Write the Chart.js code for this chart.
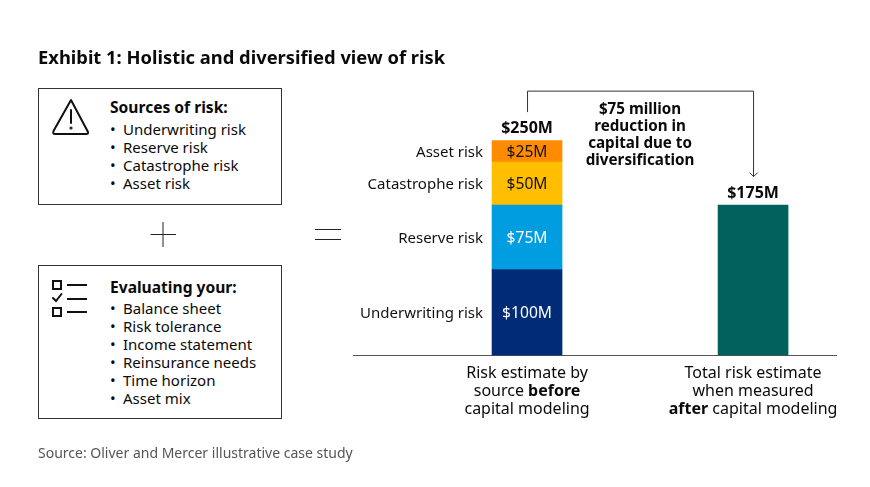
<!DOCTYPE html>
<html>
<head>
<meta charset="utf-8">
<script src="https://cdn.jsdelivr.net/npm/chart.js@4"></script>
<style>
  html, body { margin: 0; background: #fff; }
  body { width: 870px; height: 487px; position: relative; overflow: hidden; font-family: "Noto Sans", sans-serif; color: #0a0a0a; }
  #chart { position: absolute; left: 0; top: 0; }
  .abs { position: absolute; }
  #title { left: 38px; top: 45px; font-size: 18.35px; font-weight: 700; line-height: 24px; white-space: nowrap; }
  #source { left: 38px; top: 443px; font-size: 14px; line-height: 20px; color: #555; white-space: nowrap; }
  .box { left: 38px; width: 242px; border: 1px solid #333; background: #fff; }
  .box h4 { position: absolute; left: 71px; margin: 0; font-size: 15.6px; line-height: 20px; font-weight: 700; white-space: nowrap; }
  .box ul { position: absolute; left: 71px; margin: 0; padding: 0; list-style: none; font-size: 15px; line-height: 18px; white-space: nowrap; }
  .box li { height: 18px; }
  .box li::before { content: "•"; display: inline-block; width: 13px; font-size: 15px; line-height: 18px; vertical-align: top; }
  svg { position: absolute; overflow: visible; }
</style>
</head>
<body>
<canvas id="chart" width="870" height="487"></canvas>

<div id="title" class="abs">Exhibit 1: Holistic and diversified view of risk</div>

<div class="abs box" style="top:88px;height:115px">
  <svg style="left:13px;top:10px" width="38" height="36" fill="none" stroke="#111" stroke-width="2" stroke-linejoin="round" stroke-linecap="round">
    <path d="M19 1 L36 33 Q36.500 35 34 35 L3 35 Q0.500 35 1.500 32 Z"/>
    <path d="M19 11 L19 24"/>
    <circle cx="19" cy="29" r="0.6"/>
  </svg>
  <h4 style="top:8px">Sources of risk:</h4>
  <ul style="top:31px">
    <li>Underwriting risk</li>
    <li>Reserve risk</li>
    <li>Catastrophe risk</li>
    <li>Asset risk</li>
  </ul>
</div>

<svg style="left:150px;top:222px" width="26" height="26" stroke="#222" stroke-width="1" fill="none">
  <path d="M13 0 V25 M0.500 12.500 H26"/>
</svg>
<svg style="left:315px;top:227px" width="26" height="14" stroke="#222" stroke-width="1" fill="none">
  <path d="M0 2.500 H26 M0 12.500 H26"/>
</svg>

<div class="abs box" style="top:265px;height:152px">
  <svg style="left:13px;top:14px" width="36" height="40" fill="none" stroke="#111" stroke-width="2">
    <rect x="1" y="1" width="8" height="8"/>
    <path d="M15 5 H35"/>
    <path d="M1 18 L4 21 L9.500 14" stroke-linecap="round"/>
    <path d="M15 19 H35"/>
    <rect x="1" y="28" width="8" height="8"/>
    <path d="M15 32 H35"/>
  </svg>
  <h4 style="top:11px">Evaluating your:</h4>
  <ul style="top:33px">
    <li>Balance sheet</li>
    <li>Risk tolerance</li>
    <li>Income statement</li>
    <li>Reinsurance needs</li>
    <li>Time horizon</li>
    <li>Asset mix</li>
  </ul>
</div>

<div id="source" class="abs">Source: Oliver and Mercer illustrative case study</div>

<script>
const underwritingRisk = [100, null]
const reserveRisk = [75, null]
const catastropheRisk = [50, null]
const assetRisk = [25, null]
const totalAfter = [null, 175]

const seriesNames = ['Underwriting risk', 'Reserve risk', 'Catastrophe risk', 'Asset risk', 'Total risk estimate']
const seriesColors = ['#002C77', '#009DE0', '#FFBE00', '#FF8C00', '#00615D']
const valueColors = ['#ffffff', '#ffffff', '#111111', '#111111', null]
const totals = [250, 175]
const reductionText = ['$75 million', 'reduction in', 'capital due to', 'diversification']
// each line is a list of [text, isBold] runs
const categoryLabels = [
   [[['Risk estimate by', false]], [['source ', false], ['before', true]], [['capital modeling', false]]],
   [[['Total risk estimate', false]], [['when measured', false]], [['after', true], [' capital modeling', false]]]
]

const FONT = '"Noto Sans", sans-serif'
const toPoints = arr => arr.map((v, i) => ({ x: i, y: v }))

const labelsPlugin = {
   id: 'labelsPlugin',
   afterDatasetsDraw(chart) {
      const c = chart.ctx
      const x = chart.scales.x
      const y = chart.scales.y
      c.save()
      c.textBaseline = 'middle'

      // value labels inside the segments, series names to the left
      chart.data.datasets.forEach((ds, i) => {
         const meta = chart.getDatasetMeta(i)
         ds.data.forEach((pt, j) => {
            if (pt.y === null || !valueColors[i]) return
            const bar = meta.data[j]
            const mid = (bar.y + bar.base) / 2
            c.textAlign = 'center'
            c.fillStyle = valueColors[i]
            c.font = `15.6px ${FONT}`
            c.fillText(`$${pt.y}M`, bar.x, mid + 1)
            c.textAlign = 'right'
            c.fillStyle = '#111111'
            c.font = `15px ${FONT}`
            c.fillText(ds.label, bar.x - 44, mid + 1)
         })
      })

      // totals over the bars
      c.textAlign = 'center'
      c.fillStyle = '#0a0a0a'
      c.font = `700 16px ${FONT}`
      totals.forEach((t, i) => {
         c.fillText(`$${t}M`, x.getPixelForValue(i), y.getPixelForValue(t) - 12)
      })

      // bracket from the first total to the second
      const x0 = x.getPixelForValue(0)
      const x1 = x.getPixelForValue(1)
      const bracketTop = y.getPixelForValue(308)
      const bracketStart = y.getPixelForValue(283)
      const arrowEnd = y.getPixelForValue(208)
      c.strokeStyle = '#333333'
      c.lineWidth = 1
      c.beginPath()
      c.moveTo(x0 + 0.5, bracketStart)
      c.lineTo(x0 + 0.5, bracketTop + 0.5)
      c.lineTo(x1 + 0.5, bracketTop + 0.5)
      c.lineTo(x1 + 0.5, arrowEnd)
      c.moveTo(x1 - 3.5, arrowEnd - 4)
      c.lineTo(x1 + 0.5, arrowEnd)
      c.lineTo(x1 + 4.5, arrowEnd - 4)
      c.stroke()

      // reduction note
      c.font = `700 15.2px ${FONT}`
      reductionText.forEach((line, i) => {
         c.fillText(line, x.getPixelForValue(0.5), bracketTop + 19 + i * 17)
      })

      // category labels, drawn run by run for the bold words
      c.textAlign = 'left'
      categoryLabels.forEach((lines, i) => {
         lines.forEach((runs, k) => {
            const fontOf = r => `${r[1] ? '700 ' : ''}16px ${FONT}`
            let width = 0
            runs.forEach(r => { c.font = fontOf(r); width += c.measureText(r[0]).width })
            let px = x.getPixelForValue(i) - width / 2
            const py = y.bottom + 18 + k * 18
            runs.forEach(r => {
               c.font = fontOf(r)
               c.fillText(r[0], px, py)
               px += c.measureText(r[0]).width
            })
         })
      })
      c.restore()
   }
}

new Chart(document.getElementById('chart'), {
   type: 'bar',
   data: {
      datasets: [underwritingRisk, reserveRisk, catastropheRisk, assetRisk, totalAfter].map((arr, i) => ({
         label: seriesNames[i],
         data: toPoints(arr),
         backgroundColor: seriesColors[i],
         borderWidth: 0,
         barThickness: 70
      }))
   },
   options: {
      responsive: false,
      animation: false,
      layout: { padding: { left: 353, right: 34, top: 11.5, bottom: 131.5 } },
      plugins: { legend: { display: false }, tooltip: { enabled: false } },
      scales: {
         x: {
            type: 'linear',
            stacked: true,
            offset: false,
            min: -0.77,
            max: 1.367,
            grid: { display: false, drawTicks: false },
            border: { color: '#555555', width: 1 },
            ticks: { display: false }
         },
         y: {
            stacked: true,
            min: 0,
            max: 400,
            display: false
         }
      }
   },
   plugins: [labelsPlugin]
})
</script>
</body>
</html>
